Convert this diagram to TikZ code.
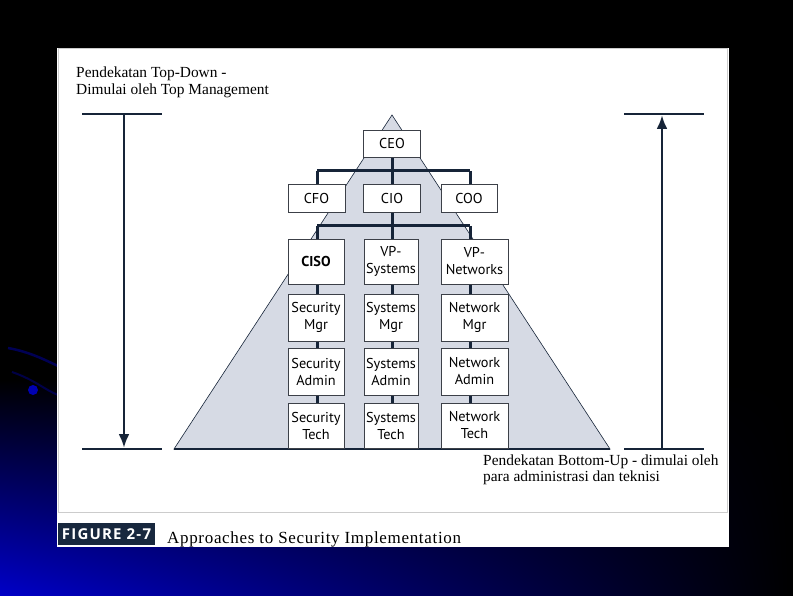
\documentclass[tikz,border=0pt]{standalone}
\usepackage{fontspec}
\setmainfont{Liberation Serif}
\newfontfamily\boxfont{PT Sans}
\newfontfamily\figfont[LetterSpace=8]{Open Sans}
\newfontfamily\capfont[LetterSpace=4]{Liberation Serif}
\usetikzlibrary{arrows.meta,shadings}
\definecolor{navy}{RGB}{22,36,56}
\definecolor{pyr}{RGB}{214,218,228}
\definecolor{boxline}{RGB}{60,64,72}
\definecolor{capbox}{RGB}{24,40,62}
\definecolor{bgblue}{RGB}{0,0,200}
\definecolor{bgmid}{RGB}{0,0,90}
\tikzset{
  orgbox/.style={draw=boxline, line width=0.8pt, fill=white, inner sep=0pt, font=\boxfont\fontsize{14.3}{17}\selectfont, align=center},
  conn/.style={draw=navy, line width=3pt},
  guide/.style={draw=navy, line width=2.6pt},
  bigarrow/.style={draw=navy, line width=2.8pt, -{Latex[length=14pt,width=11pt]}},
  note/.style={font=\fontsize{15.4}{17}\selectfont, align=left, inner sep=0pt, anchor=base west}
}
\begin{document}
\begin{tikzpicture}[x=1pt,y=-1pt]
\useasboundingbox (0,0) rectangle (793,596);
% background
\fill[black] (0,0) rectangle (793,596);
\shade[upper left=black, upper right=black, lower left=bgblue, lower right=black] (0,380) rectangle (793,596);
\draw[blue!55!black, line width=2.5pt, opacity=0.6] (8,348) .. controls (30,352) and (45,360) .. (58,366);
\draw[blue!55!black, line width=2pt, opacity=0.5] (12,372) .. controls (35,380) and (45,390) .. (58,395);
\fill[blue!70!black] (33,390) circle (5);
% white panel
\fill[white] (57,48) rectangle (729,547);
\draw[gray!40, line width=0.8pt] (58,48) rectangle (727,512);
% pyramid
\path[fill=pyr, draw=navy, line width=0.6pt] (392,115) -- (610,449) -- (174,449) -- cycle;
% guide lines
\coordinate (ltl) at (82,114); \coordinate (ltr) at (162,114);
\coordinate (lbl) at (82,449); \coordinate (lbr) at (162,449);
\coordinate (lt) at (124,114); \coordinate (lb) at (124,448);
\coordinate (rtl) at (624,114); \coordinate (rtr) at (704,114);
\coordinate (rbl) at (624,449); \coordinate (rbr) at (704,449);
\coordinate (rt) at (662,115); \coordinate (rb) at (662,449);
\draw[guide] (ltl) -- (ltr);
\draw[guide] (lbl) -- (lbr);
\draw[guide] (rtl) -- (rtr);
\draw[guide] (rbl) -- (rbr);
\draw[navy, line width=2pt] (174,449) -- (610,449);
\draw[bigarrow] (lt) -- (lb);
\draw[bigarrow] (rb) -- (rt);
% connectors (behind boxes)
\coordinate (b1l) at (317,171); \coordinate (b1r) at (470,171);
\coordinate (b1m) at (392,171);
\coordinate (b2l) at (317,226); \coordinate (b2r) at (470,226);
\coordinate (b2m) at (392,226);
\draw[conn] (b1l) -- (b1r);
\draw[conn] (b2l) -- (b2r);
\draw[conn] (392,157) -- (b1m);
\draw[conn] (b1l) -- (317,185); \draw[conn] (b1m) -- (392,185); \draw[conn] (b1r) -- (470,185);
\draw[conn] (392,212) -- (b2m);
\draw[conn] (b2l) -- (317,239); \draw[conn] (b2m) -- (392,239); \draw[conn] (b2r) -- (470,239);
\draw[conn] (317,284) -- (317,403);
\draw[conn] (392,284) -- (392,403);
\draw[conn] (470,284) -- (470,403);
% boxes
\node[orgbox, minimum width=57pt, minimum height=27pt] (ceo) at (392,143.5) {CEO};
\node[orgbox, minimum width=57pt, minimum height=28pt] (cfo) at (316.5,198.5) {CFO};
\node[orgbox, minimum width=57pt, minimum height=28pt] (cio) at (392,198.5) {CIO};
\node[orgbox, minimum width=56pt, minimum height=28pt] (coo) at (469,198.5) {COO};
\node[orgbox, minimum width=56pt, minimum height=45pt, font=\boxfont\bfseries\fontsize{14.3}{17}\selectfont] (ciso) at (316,261.5) {CISO};
\node[orgbox, minimum width=54pt, minimum height=45pt] (vps) at (391,261.5) {VP-\\Systems};
\node[orgbox, minimum width=67pt, minimum height=45pt] (vpn) at (474.5,261.5) {VP-\\Networks};
\node[orgbox, minimum width=56pt, minimum height=47pt] (secm) at (316,317.5) {Security\\Mgr};
\node[orgbox, minimum width=54pt, minimum height=47pt] (sysm) at (391,317.5) {Systems\\Mgr};
\node[orgbox, minimum width=67pt, minimum height=47pt] (netm) at (474.5,317.5) {Network\\Mgr};
\node[orgbox, minimum width=56pt, minimum height=47pt] (seca) at (316,371.5) {Security\\Admin};
\node[orgbox, minimum width=54pt, minimum height=47pt] (sysa) at (391,371.5) {Systems\\Admin};
\node[orgbox, minimum width=67pt, minimum height=47pt] (neta) at (474.5,371.5) {Network\\Admin};
\node[orgbox, minimum width=56pt, minimum height=45pt] (sect) at (316,425.5) {Security\\Tech};
\node[orgbox, minimum width=54pt, minimum height=45pt] (syst) at (391,425.5) {Systems\\Tech};
\node[orgbox, minimum width=67pt, minimum height=45pt] (nett) at (474.5,425.5) {Network\\Tech};
% notes
\node[note] (td) at (76,78) {Pendekatan Top-Down -};
\node[note] (td2) at (76,95) {Dimulai oleh Top Management};
\node[note] (bu) at (483,465) {Pendekatan Bottom-Up - dimulai oleh};
\node[note] (bu2) at (483,481) {para administrasi dan teknisi};
% caption
\node[fill=capbox, minimum width=97pt, minimum height=22pt, inner sep=0pt] (fig) at (106.5,534) {};
\node[text=white, font=\figfont\bfseries\fontsize{15}{16}\selectfont, inner sep=0pt, anchor=base] (figt) at (106.5,539) {FIGURE 2-7};
\node[font=\capfont\fontsize{17}{18}\selectfont, anchor=base west, inner sep=0pt] (cap) at (167,543) {Approaches to Security Implementation};
\end{tikzpicture}
\end{document}
